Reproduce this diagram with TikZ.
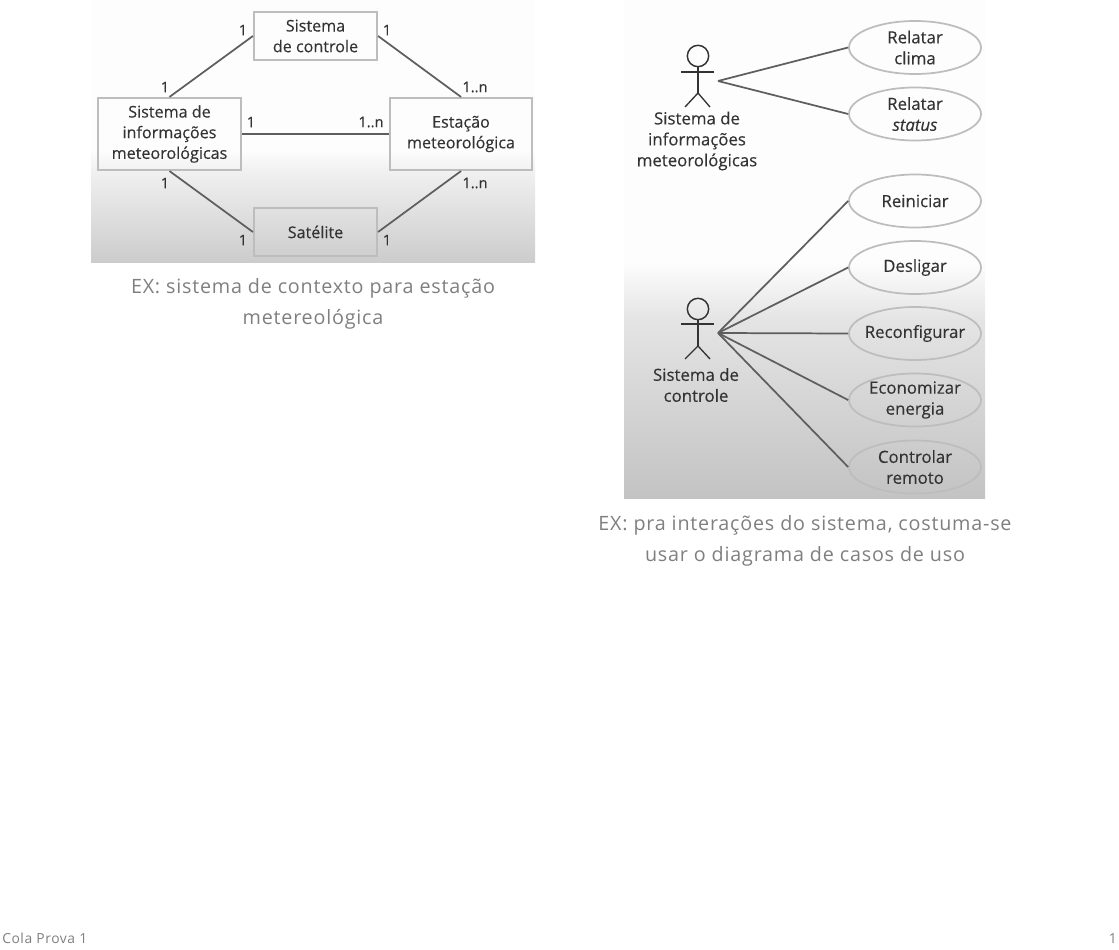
\documentclass[tikz,border=0pt]{standalone}
\usepackage{fontspec}
\setmainfont{Open Sans}
\newfontfamily\diagfont[FakeBold=0.25]{Open Sans}
\newfontfamily\capfont[LetterSpace=4]{Open Sans}
\usetikzlibrary{shapes.geometric}
\definecolor{inkdark}{HTML}{333333}
\definecolor{edgegray}{HTML}{5E5E5E}
\definecolor{boxgray}{HTML}{BDBDBD}
\definecolor{capgray}{HTML}{7F7F7F}
\definecolor{shadetop}{HTML}{FDFDFD}
\definecolor{shadelefta}{HTML}{F0F0F0}
\definecolor{shadeleftb}{HTML}{CCCCCC}
\definecolor{shaderighta}{HTML}{E4E4E4}
\definecolor{shaderightb}{HTML}{C3C3C3}
\tikzset{
	diagtext/.style={text=inkdark, font=\diagfont\fontsize{12.1}{15.5}\selectfont, align=center},
	sysbox/.style={draw=boxgray, line width=1.6pt, rectangle, inner sep=0pt, diagtext},
	smallbox/.style={sysbox, minimum width=92.25pt, minimum height=36pt},
	bigbox/.style={sysbox, minimum width=107pt, minimum height=54pt},
	actortext/.style={diagtext, font=\diagfont\fontsize{12.6}{15.7}\selectfont},
	usecase/.style={draw=boxgray, line width=1.3pt, ellipse, inner sep=0pt, inner xsep=-8pt, minimum width=99pt, minimum height=39.75pt, actortext},
	multi/.style={text=inkdark, font=\diagfont\fontsize{11}{12}\selectfont, inner sep=0pt},
	link/.style={draw=edgegray, line width=1.3pt},
	stick/.style={draw=inkdark, line width=1pt},
	actorhead/.style={draw=inkdark, line width=1.1pt, circle, inner sep=0pt, minimum size=16pt},
	caption/.style={text=capgray, font=\capfont\fontsize{14.8}{23.25}\selectfont, align=center},
	pagetext/.style={text=capgray, font=\capfont\fontsize{10.4}{12}\selectfont, inner sep=0pt}
}
\begin{document}
\begin{tikzpicture}[x=0.75pt, y=-0.75pt]
	\useasboundingbox (0,0) rectangle (1119,949);
	% backgrounds
	\fill[shadetop] (91,0) rectangle (535,150);
	\fill[top color=shadetop, bottom color=shadelefta] (91,150) rectangle (535,172);
	\fill[top color=shadelefta, bottom color=shadeleftb] (91,172) rectangle (535,262);
	\fill[shadetop] (624,0) rectangle (985,262);
	\fill[top color=shadetop, bottom color=shaderighta] (624,262) rectangle (985,320);
	\fill[top color=shaderighta, bottom color=shaderightb] (624,320) rectangle (985,498);
	% context diagram
	\node[smallbox, align=center] (ctrl)at(315.5, 36) {Sistema\\de controle};
	\node[bigbox] (info)at(169.5, 134) {Sistema de\\informações\\meteorológicas};
	\node[bigbox] (station)at(461, 134) {Estação\\meteorológica};
	\node[smallbox] (sat)at(315.5, 232) {Satélite};
	\draw[link] (ctrl.west) -- (info.north);
	\draw[link] (ctrl.east) -- (station.north);
	\draw[link] (info.east) -- (station.west);
	\draw[link] (info.south) -- (sat.west);
	\draw[link] (station.south) -- (sat.east);
	\node[multi] (m1)at(243, 30) {1};
	\node[multi] (m2)at(387, 30) {1};
	\node[multi] (m3)at(165, 87) {1};
	\node[multi] (m4)at(475, 87) {1..n};
	\node[multi] (m5)at(251, 122) {1};
	\node[multi] (m6)at(371, 122) {1..n};
	\node[multi] (m7)at(165, 183) {1};
	\node[multi] (m8)at(475, 183) {1..n};
	\node[multi] (m9)at(243, 240) {1};
	\node[multi] (m10)at(387, 240) {1};
	\node[caption] (capA)at(313, 304) {EX: sistema de contexto para estação\\metereológica};
	% use cases
	\node[usecase] (clima)at(915, 47.5) {Relatar\\clima};
	\node[usecase] (status)at(915, 114) {Relatar\\\textit{status}};
	\node[usecase] (reboot)at(915, 201) {Reiniciar};
	\node[usecase] (off)at(915, 267.5) {Desligar};
	\node[usecase] (reconf)at(915, 333.5) {Reconfigurar};
	\node[usecase] (saving)at(915, 400) {Economizar\\energia};
	\node[usecase] (remote)at(915, 467) {Controlar\\remoto};
	% first actor
	\node[actorhead] (headA)at(698, 56) {};
	\coordinate (handAl) at (681, 72);
	\coordinate (handAr) at (714, 72);
	\coordinate (hipA) at (698, 93);
	\coordinate (footAl) at (685, 107);
	\coordinate (footAr) at (710, 107);
	\coordinate (portA) at (718, 81);
	\draw[stick] (headA.south) -- (hipA);
	\draw[stick] (handAl) -- (handAr);
	\draw[stick] (footAl) -- (hipA) -- (footAr);
	\node[actortext] (actorA)at(697, 141) {Sistema de\\informações\\meteorológicas};
	\draw[link] (portA) -- (clima.west);
	\draw[link] (portA) -- (status.west);
	% second actor
	\node[actorhead] (headB)at(698, 309) {};
	\coordinate (handBl) at (681, 324);
	\coordinate (handBr) at (714, 324);
	\coordinate (hipB) at (698, 346);
	\coordinate (footBl) at (685, 359);
	\coordinate (footBr) at (710, 359);
	\coordinate (portB) at (718, 333);
	\draw[stick] (headB.south) -- (hipB);
	\draw[stick] (handBl) -- (handBr);
	\draw[stick] (footBl) -- (hipB) -- (footBr);
	\node[actortext] (actorB)at(696, 385) {Sistema de\\controle};
	\draw[link] (portB) -- (reboot.west);
	\draw[link] (portB) -- (off.west);
	\draw[link] (portB) -- (reconf.west);
	\draw[link] (portB) -- (saving.west);
	\draw[link] (portB) -- (remote.west);
	\node[caption] (capB)at(805, 541) {EX: pra interações do sistema, costuma-se\\usar o diagrama de casos de uso};
	% footer
	\node[pagetext, anchor=west] (footL)at(2, 938.5) {Cola Prova 1};
	\node[pagetext, anchor=east] (footR)at(1117, 938.5) {1};
\end{tikzpicture}
\end{document}
